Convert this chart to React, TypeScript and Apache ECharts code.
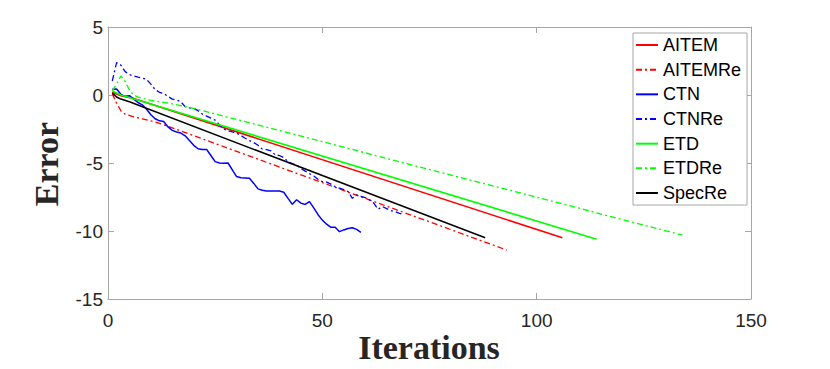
import React, { useEffect, useRef } from "react";
import * as echarts from "echarts";

// ---- data ----
const xTicks = [0, 50, 100, 150];
const yTicks = [5, 0, -5, -10, -15];

const aitemX = [1, 3, 6, 106];
const aitemY = [0.2, -0.05, -0.25, -10.5];

const aitemReX = [1, 2, 3, 4, 6, 8, 11, 14, 93];
const aitemReY = [0.1, -0.6, -1.15, -1.42, -1.6, -1.75, -1.98, -2.3, -11.4];

const ctnY = [
  0.42, 0.44, 0.05, -0.1, -0.05, -0.3, -0.55, -0.72, -1.05, -1.45,
  -1.75, -1.9, -1.95, -2.35, -2.6, -2.72, -2.8, -3.0, -3.35, -3.7,
  -3.95, -4.0, -4.0, -4.45, -4.9, -5.0, -5.02, -5.0, -5.5, -6.0,
  -6.08, -6.1, -6.12, -6.5, -6.9, -7.0, -7.06, -7.06, -7.05, -7.06,
  -7.15, -7.6, -8.04, -7.7, -7.95, -8.05, -7.84, -8.3, -8.8, -9.2,
  -9.5, -9.73, -9.73, -10.05, -9.92, -9.82, -9.76, -9.88, -10.1,
];

const ctnReY = [
  1.03, 2.38, 2.2, 1.72, 1.5, 1.4, 1.32, 1.25, 1.15, 0.8,
  0.4, 0.2, 0.1, -0.1, -0.3, -0.37, -0.5, -0.85, -0.95, -0.98,
  -1.15, -1.4, -1.55, -1.7, -1.85, -2.2, -2.5, -2.62, -2.72, -2.8,
  -2.98, -3.18, -3.35, -3.5, -3.7, -3.98, -4.02, -4.1, -4.4, -4.45,
  -4.6, -4.9, -5.05, -5.15, -5.4, -5.6, -5.78, -5.95, -6.2, -6.37,
  -6.4, -6.55, -6.75, -6.85, -6.95, -7.1, -7.6, -7.35, -7.45, -7.55,
  -7.72, -7.95, -8.4, -8.2, -8.35, -8.5, -8.58, -8.7, -8.8,
];

const etdX = [1, 3, 114];
const etdY = [0.3, 0.0, -10.6];

const etdReX = [1, 2, 3, 4, 5, 6, 7, 10, 15, 20, 134];
const etdReY = [0.3, 0.8, 1.4, 1.0, 0.35, 0.0, -0.15, -0.4, -0.65, -0.98, -10.3];

const specReX = [1, 2, 3, 5, 88];
const specReY = [0.15, -0.15, -0.3, -0.5, -10.5];

const seriesNames = ["AITEM", "AITEMRe", "CTN", "CTNRe", "ETD", "ETDRe", "SpecRe"];

const zip = (xs: number[], ys: number[]) => xs.map((x, i) => [x, ys[i]]);
const idx = (ys: number[]) => ys.map((y, i) => [i + 1, y]);

const DASHDOT = [6, 3, 2, 3];
const AXIS_COLOR = "#a6a6a6";
const LABEL_COLOR = "#262626";
const SANS = "Liberation Sans, Arial, Helvetica, sans-serif";
const SERIF = "Liberation Serif, Times New Roman, serif";

export default function App() {
  const ref = useRef<HTMLDivElement>(null);

  useEffect(() => {
    if (!ref.current) return;
    const chart = echarts.init(ref.current, undefined, { renderer: "svg" });

    const mk = (name: string, data: number[][], color: string, dashed: boolean, width: number) => ({
      name,
      type: "line",
      data,
      symbol: "none",
      showSymbol: false,
      clip: true,
      lineStyle: { color, width, type: dashed ? DASHDOT : "solid" },
      itemStyle: { color },
    });

    const axisCommon = {
      axisLine: { show: true, onZero: false, lineStyle: { color: AXIS_COLOR, width: 1 } },
      axisTick: { show: true, inside: true, length: 6, lineStyle: { color: AXIS_COLOR } },
      splitLine: { show: false },
    };

    chart.setOption({
      animation: false,
      backgroundColor: "#ffffff",
      grid: { left: 108, right: 79, top: 27, bottom: 70, containLabel: false },
      xAxis: [
        {
          type: "value",
          min: 0,
          max: 150,
          interval: 50,
          ...axisCommon,
          axisLabel: {
            color: LABEL_COLOR,
            fontSize: 19,
            fontFamily: SANS,
            margin: 12,
            formatter: (v: number) => (xTicks.includes(v) ? String(v) : ""),
          },
        },
        {
          type: "value",
          position: "top",
          min: 0,
          max: 150,
          interval: 50,
          ...axisCommon,
          axisLabel: { show: false },
        },
      ],
      yAxis: [
        {
          type: "value",
          min: -15,
          max: 5,
          interval: 5,
          ...axisCommon,
          axisLabel: {
            color: LABEL_COLOR,
            fontSize: 19,
            fontFamily: SANS,
            margin: 5,
            formatter: (v: number) => (yTicks.includes(v) ? String(v) : ""),
          },
        },
        {
          type: "value",
          position: "right",
          min: -15,
          max: 5,
          interval: 5,
          ...axisCommon,
          axisLabel: { show: false },
        },
      ],
      legend: {
        data: seriesNames,
        orient: "vertical",
        left: 633,
        top: 33,
        padding: [3, 6, 3, 2],
        itemWidth: 22,
        itemHeight: 14,
        itemGap: 6.67,
        itemStyle: { opacity: 0 },
        backgroundColor: "#ffffff",
        borderColor: AXIS_COLOR,
        borderWidth: 1,
        borderRadius: 0,
        textStyle: { fontSize: 18, fontFamily: SANS, color: "#000000" },
      },
      graphic: [
        {
          type: "text",
          x: 429,
          y: 347,
          style: {
            text: "Iterations",
            font: "bold 34px " + SERIF,
            fill: "#262626",
            align: "center",
            verticalAlign: "middle",
          },
        },
        {
          type: "text",
          x: 46,
          y: 164,
          rotation: Math.PI / 2,
          style: {
            text: "Error",
            font: "bold 34px " + SERIF,
            fill: "#262626",
            align: "center",
            verticalAlign: "middle",
          },
        },
      ],
      series: [
        mk("AITEM", zip(aitemX, aitemY), "#ff0000", false, 1.6),
        mk("AITEMRe", zip(aitemReX, aitemReY), "#ff0000", true, 1.3),
        mk("CTN", idx(ctnY), "#0000ff", false, 1.5),
        mk("CTNRe", idx(ctnReY), "#0000ff", true, 1.3),
        mk("ETD", zip(etdX, etdY), "#00ff00", false, 1.6),
        mk("ETDRe", zip(etdReX, etdReY), "#00ff00", true, 1.3),
        mk("SpecRe", zip(specReX, specReY), "#000000", false, 1.5),
      ],
    });

    return () => chart.dispose();
  }, []);

  return <div ref={ref} style={{ width: 830, height: 369, position: "absolute", left: 0, top: 0 }} />;
}
